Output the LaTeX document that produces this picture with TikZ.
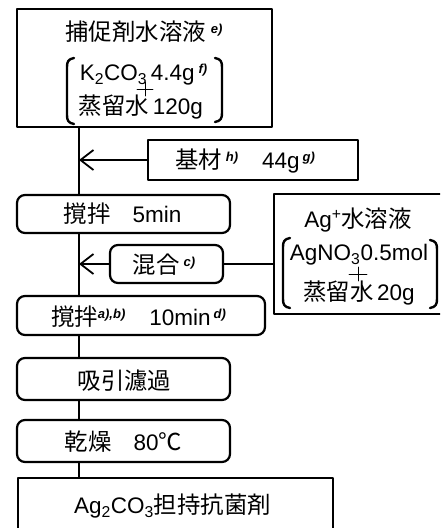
\documentclass[tikz,border=0pt]{standalone}
\usepackage{fontspec}
\setmainfont{Liberation Sans}
\newfontfamily\jpf{Noto Sans CJK JP}[Scale=1.04]
\usetikzlibrary{arrows.meta}
\newcommand\nt[1]{\raisebox{7pt}{\fontsize{13}{13}\selectfont\bfseries\itshape #1}}
\newcommand\ja[1]{{\jpf #1}}

\begin{document}
\begin{tikzpicture}[x=1pt,y=-1pt,line cap=round,line join=round,
  font=\fontsize{22.5}{26}\selectfont,
  box/.style={draw,line width=2.2pt,inner sep=0pt},
  rbox/.style={box,rounded corners=8pt},
  link/.style={line width=2.4pt},
  feed/.style={link,-{Straight Barb[length=13pt,width=20pt,line width=1.8pt]}},
  brk/.style={line width=2.4pt},
  plus/.style={line width=0.9pt}]
\clip (0,0) rectangle (440,528);
\coordinate (sp) at (79,0);
\node[box,minimum width=255pt,minimum height=118pt] (sol) at (144.5,68) {};
\node[box,minimum width=210pt,minimum height=40pt] (base) at (253,160) {};
\node[rbox,minimum width=213pt,minimum height=38pt] (st1) at (123.5,214) {};
\node[rbox,minimum width=113pt,minimum height=38pt] (mix) at (166.5,264) {};
\node[box,minimum width=190pt,minimum height=120pt,anchor=north west] (ag) at (273,193) {};
\node[rbox,minimum width=248pt,minimum height=39pt] (st2) at (141,315.5) {};
\node[rbox,minimum width=213pt,minimum height=42pt] (fil) at (123.5,379) {};
\node[rbox,minimum width=213pt,minimum height=42pt] (dry) at (123.5,441) {};
\node[box,minimum width=315pt,minimum height=80pt,anchor=north west] (prod) at (17,477) {};
\draw[link] (sol.south -| sp) -- (st1.north -| sp);
\draw[link] (st1.south -| sp) -- (st2.north -| sp);
\draw[link] (st2.south -| sp) -- (fil.north -| sp);
\draw[link] (fil.south -| sp) -- (dry.north -| sp);
\draw[link] (dry.south -| sp) -- (prod.north -| sp);
\draw[feed] (base.west) -- (base.west -| sp);
\draw[feed] (mix.west) -- (mix.west -| sp);
\draw[link] (ag.west |- mix.east) -- (mix.east);
\node (solt) at (144,32) {\ja{捕促剤水溶液}\hspace{5pt}\nt{e)}};
\node (k2co3) at (143.5,75) {K\textsubscript{2}CO\textsubscript{3}\,4.4g\hspace{4pt}\nt{f)}};
\node (wat1) at (141,107) {\ja{蒸留水}\,120g};
\draw[plus,shift={(145,89)}] (-8,0) -- (8,0) (0,-7) -- (0,7);
\draw[brk,shift={(67,91)}] (7,-33) .. controls (1,-32) and (0,-29) .. (0,-24) -- (0,24) .. controls (0,29) and (1,32) .. (7,33);
\draw[brk,shift={(222,90)},xscale=-1] (7,-32) .. controls (1,-31) and (0,-28) .. (0,-23) -- (0,23) .. controls (0,28) and (1,31) .. (7,32);
\node (baset) at (245,161) {\ja{基材}\hspace{4pt}\nt{h)}\hspace{24pt}44g\hspace{3pt}\nt{g)}};
\node (st1t) at (122.5,214) {\ja{撹拌}\hspace{22pt}5min};
\node (mixt) at (164,265) {\ja{混合}\hspace{4pt}\nt{c)}};
\node (agt) at (358,220) {Ag\textsuperscript{+}\ja{水溶液}};
\node (agno3) at (359,255) {AgNO\textsubscript{3}0.5mol};
\node (wat2) at (359,293) {\ja{蒸留水}\,20g};
\draw[plus,shift={(358,274)}] (-9,0) -- (9,0) (0,-7) -- (0,7);
\draw[brk,shift={(283,273)}] (7,-35) .. controls (1,-34) and (0,-31) .. (0,-26) -- (0,26) .. controls (0,31) and (1,34) .. (7,35);
\draw[brk,shift={(437,274)},xscale=-1] (7,-34) .. controls (1,-33) and (0,-30) .. (0,-25) -- (0,25) .. controls (0,30) and (1,33) .. (7,34);
\node (st2t) at (138.5,317) {\ja{撹拌}\nt{a),b)}\hspace{24pt}10min\hspace{3pt}\nt{d)}};
\node (filt) at (124.5,381) {\ja{吸引濾過}};
\node (dryt) at (123.5,442) {\ja{乾燥}\hspace{22pt}80\ja{℃}};
\node (prodt) at (172.5,506) {Ag\textsubscript{2}CO\textsubscript{3}\ja{担持抗菌剤}};
\end{tikzpicture}
\end{document}
